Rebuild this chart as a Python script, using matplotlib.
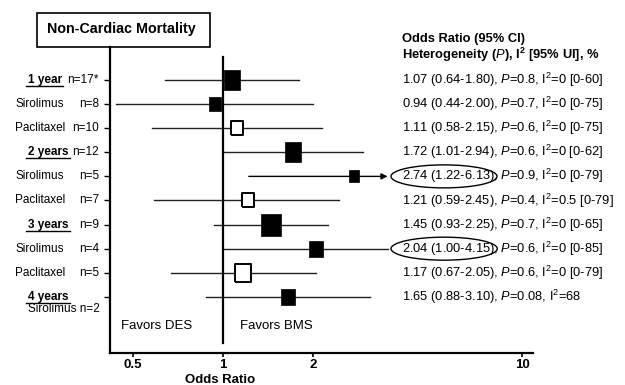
import matplotlib
matplotlib.use('Agg')
import matplotlib.pyplot as plt
from matplotlib.patches import Ellipse, Rectangle
from matplotlib.lines import Line2D
from matplotlib.transforms import blended_transform_factory, IdentityTransform

plt.rcParams['font.family'] = 'Liberation Sans'
plt.rcParams['mathtext.fontset'] = 'custom'
plt.rcParams['mathtext.rm'] = 'Liberation Sans'
plt.rcParams['mathtext.it'] = 'Liberation Sans:italic'
plt.rcParams['mathtext.bf'] = 'Liberation Sans:bold'

# data
groups = ['1 year', '', '', '2 years', '', '', '3 years', '', '', '4 years']
drugs = ['', 'Sirolimus', 'Paclitaxel', '', 'Sirolimus', 'Paclitaxel', '', 'Sirolimus', 'Paclitaxel', '']
n_labels = ['n=17*', 'n=8', 'n=10', 'n=12', 'n=5', 'n=7', 'n=9', 'n=4', 'n=5', '']
odds = [1.07, 0.94, 1.11, 1.72, 2.74, 1.21, 1.45, 2.04, 1.17, 1.65]
ci_low = [0.64, 0.44, 0.58, 1.01, 1.22, 0.59, 0.93, 1.00, 0.67, 0.88]
ci_high = [1.80, 2.00, 2.15, 2.94, 6.13, 2.45, 2.25, 4.15, 2.05, 3.10]
p_values = ['0.8', '0.7', '0.6', '0.6', '0.9', '0.4', '0.7', '0.6', '0.6', '0.08']
i2_values = ['0 [0-60]', '0 [0-75]', '0 [0-75]', '0 [0-62]', '0 [0-79]', '0.5 [0-79]',
             '0 [0-65]', '0 [0-85]', '0 [0-79]', '68']
circled = [4, 7]

# box heights in pixels (study weight)
box_px = [20, 14, 15, 20, 13, 15, 23, 16, 19, 16]
line_cut = 3.55  # lines beyond this run into the text column

fig = plt.figure(figsize=(6.25, 3.85), dpi=100)
ax = fig.add_axes([110 / 625, 32 / 385, 423 / 625, 306 / 385])
ax.set_xscale('log')
ax.set_xlim(0.419, 10.88)
ax.set_ylim(11.33, -1.37)

rows = list(range(len(odds)))
box = [(-0.42, -0.5), (0.42, -0.5), (0.42, 0.5), (-0.42, 0.5), (-0.42, -0.5)]

for i in rows:
    hi = min(ci_high[i], line_cut)
    if i == 4:
        ax.annotate('', xy=(hi, i), xytext=(ci_low[i], i),
                    arrowprops=dict(arrowstyle='-|>', color='black', lw=1.0,
                                    mutation_scale=9, shrinkA=0, shrinkB=0))
    else:
        ax.plot([ci_low[i], hi], [i, i], color='#222222', lw=1.0)
    open_box = drugs[i] == 'Paclitaxel'
    ax.plot(odds[i], i, marker=box, markersize=box_px[i] / 1.389,
            markerfacecolor='white' if open_box else 'black',
            markeredgecolor='black', markeredgewidth=1.4 if open_box else 0.5,
            zorder=4)

ax.plot([1, 1], [-0.95, 10.9], color='black', lw=1.6, zorder=3)

for s in ['top', 'right']:
    ax.spines[s].set_visible(False)
for s in ['left', 'bottom']:
    ax.spines[s].set_linewidth(1.6)

ax.set_xticks([0.5, 1, 2, 10])
ax.set_xticklabels(['0.5', '1', '2', '10'], fontweight='bold', fontsize=9.5)
ax.minorticks_off()
ax.tick_params(axis='x', length=3, width=1.2, pad=1.5)
ax.set_yticks(rows)
ax.set_yticklabels([])
ax.tick_params(axis='y', length=4, width=1)
ax.set_xlabel('Odds Ratio', fontweight='bold', fontsize=9.5)
ax.xaxis.set_label_coords((220 - 110) / 423, -0.068)

tcol = blended_transform_factory(ax.transAxes, ax.transData)
ax.text((121 - 110) / 423, 10.2, 'Favors DES', transform=tcol,
        fontsize=9.5, va='center', ha='left')
ax.text((240 - 110) / 423, 10.2, 'Favors BMS', transform=tcol,
        fontsize=9.5, va='center', ha='left')

# right-hand text column
tx = (402 - 110) / 423
ax.text(tx, -1.70, 'Odds Ratio (95% CI)', transform=tcol, fontsize=9.3,
        fontweight='bold', va='center', clip_on=False)
ax.text(tx, -1.04, r'Heterogeneity ($\mathbf{\it{P}}$), I$^\mathbf{2}$ [95% UI], %',
        transform=tcol, fontsize=9.3, fontweight='bold', va='center', clip_on=False)

fig.canvas.draw()
renderer = fig.canvas.get_renderer()

for i in rows:
    head = '%.2f (%.2f-%.2f)' % (odds[i], ci_low[i], ci_high[i])
    tail = r', $\it{P}$=%s, I$^2$=%s' % (p_values[i], i2_values[i])
    ax.text(tx, i, head + tail, transform=tcol, fontsize=9.3, va='center', clip_on=False)
    if i in circled:
        tmp = ax.text(tx, i, head, transform=tcol, fontsize=9.3, va='center')
        bb = tmp.get_window_extent(renderer)
        tmp.remove()
        cx = (bb.x0 + bb.x1) / 2 - 4
        cy = (bb.y0 + bb.y1) / 2
        fig.add_artist(Ellipse((cx, cy), bb.width + 14, 23, fill=False,
                               edgecolor='black', lw=1.0,
                               transform=IdentityTransform()))

# left-hand labels
lab = blended_transform_factory(fig.transFigure, ax.transData)
for i in rows:
    if groups[i]:
        t = fig.text(28 / 625, 0, groups[i], fontsize=8.5, fontweight='bold', va='center')
        t.set_transform(lab)
        t.set_position((28 / 625, i))
        bb = t.get_window_extent(renderer)
        fig.add_artist(Line2D([bb.x0 - 2, bb.x1 + 1], [bb.y0, bb.y0], color='black',
                              lw=1.0, transform=IdentityTransform()))
    if drugs[i]:
        t = fig.text(15 / 625, 0, drugs[i], fontsize=8.5, va='center')
        t.set_transform(lab)
        t.set_position((15 / 625, i))
    if n_labels[i]:
        t = fig.text(99 / 625, 0, n_labels[i], fontsize=8.5, va='center', ha='right')
        t.set_transform(lab)
        t.set_position((99 / 625, i))

t = fig.text(0, 0, 'Sirolimus n=2', fontsize=8.5, va='center', ha='right')
t.set_transform(lab)
t.set_position((100 / 625, 9.5))

# title box
fig.add_artist(Rectangle((37 / 625, 338 / 385), 173 / 625, 34 / 385, fill=False,
                         edgecolor='black', lw=1.2, transform=fig.transFigure))
fig.text(121 / 625, 356 / 385, 'Non-Cardiac Mortality', fontsize=10.3,
         fontweight='bold', ha='center', va='center')

fig.savefig('out.png', dpi=100)
